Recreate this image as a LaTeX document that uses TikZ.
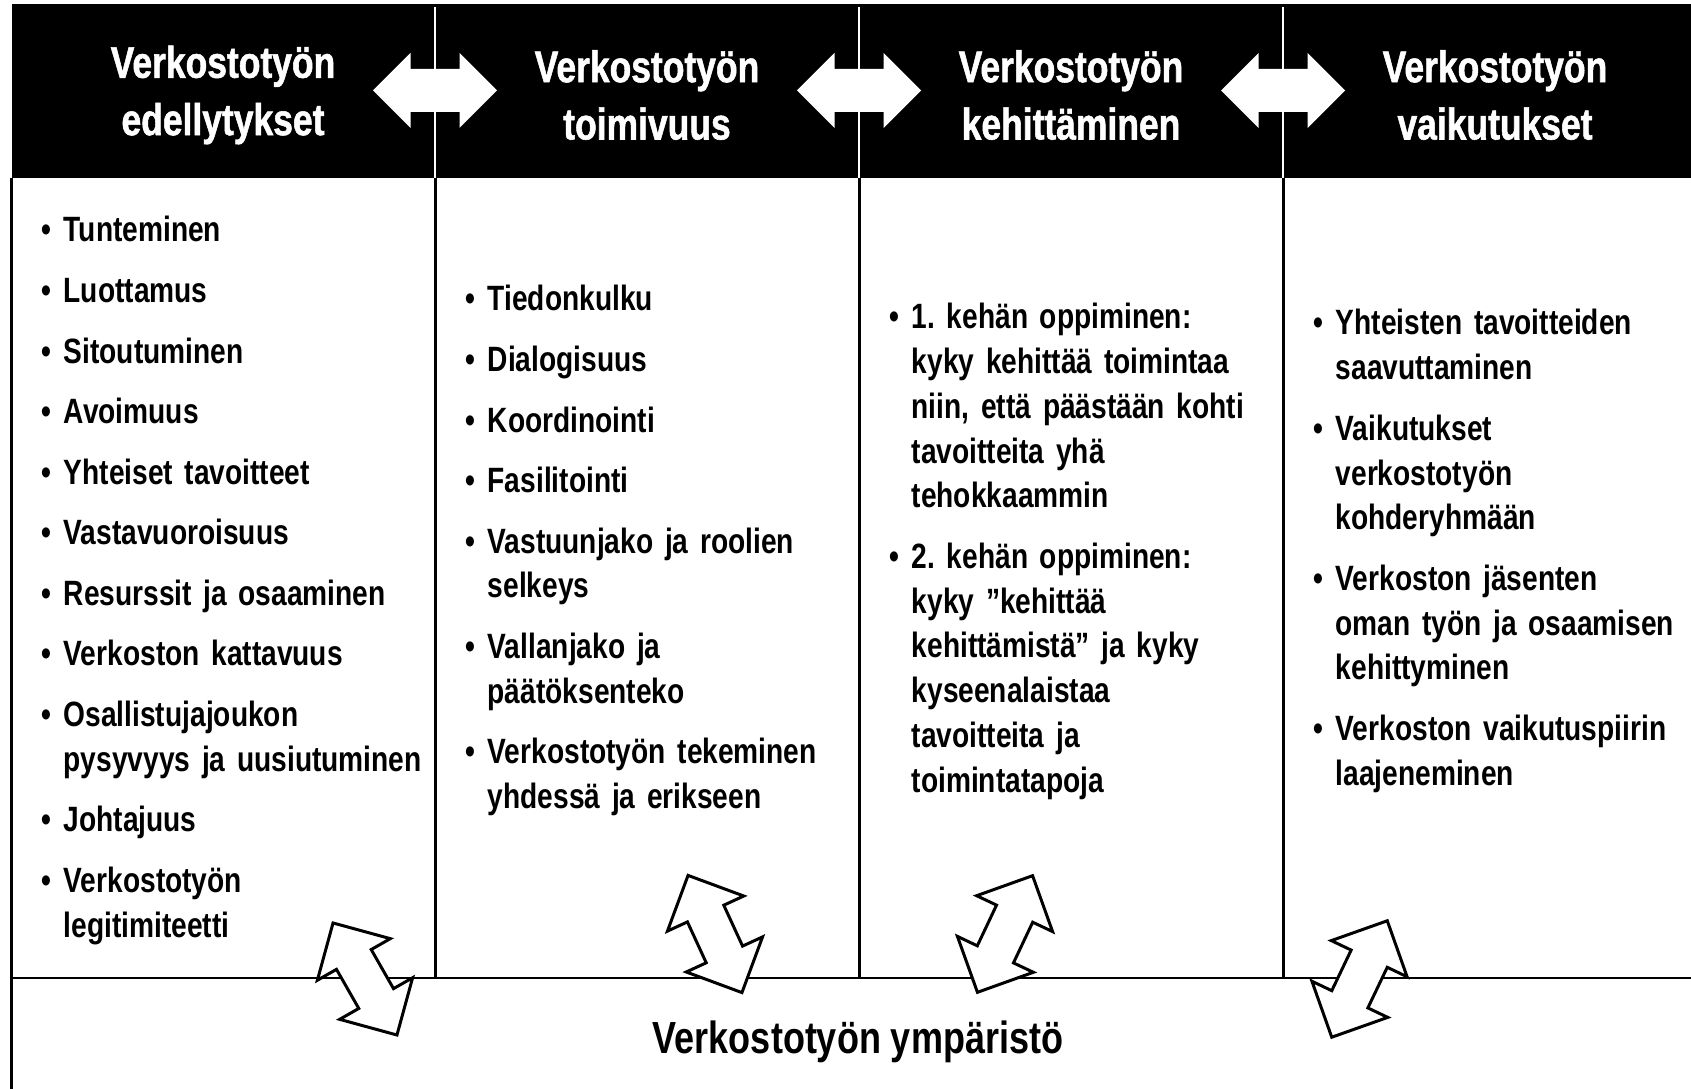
\documentclass[tikz,border=0pt]{standalone}
\usepackage{fontspec}
\usepackage{tikz}

\newfontfamily\headfont{Liberation Sans}[FakeStretch=0.80, FakeBold=1.2]
\newfontfamily\bodyfont{Liberation Sans}[FakeStretch=0.80]

\newcommand{\bitem}[1]{\hangindent=6.26pt\hangafter=1\noindent\makebox[6.26pt][l]{\textbullet}#1\par}
\newcommand{\colset}{\fontsize{10pt}{12.72pt}\selectfont\setlength{\parskip}{4.5pt}\frenchspacing}

\tikzset{
    flowarrow/.pic = {
        \fill[white] (-62,0) -- (-24.5,-37.5) -- (-24.5,-21.5) -- (24.5,-21.5) -- (24.5,-37.5)
            -- (62,0) -- (24.5,37.5) -- (24.5,21.5) -- (-24.5,21.5) -- (-24.5,37.5) -- cycle;
    },
    envarrow/.pic = {
        \filldraw[fill = white, draw = black, line width = 0.85pt]
            (0,-64.5) -- (42,-22.5) -- (20,-22.5) -- (20,22.5) -- (42,22.5)
            -- (0,64.5) -- (-42,22.5) -- (-20,22.5) -- (-20,-22.5) -- (-42,-22.5) -- cycle;
    },
}

\begin{document}
\begin{tikzpicture}
[
    x = 0.01cm, y = -0.01cm,
    frame/.style = {line width = 0.85pt},
    head/.style = {text = white, align = center, font = \headfont\bfseries\fontsize{12.6pt}{16.3pt}\selectfont},
    column/.style = {anchor = base west, text width = 4cm, align = left, inner sep = 0pt, font = \bodyfont\bfseries},
]
\useasboundingbox (0,0) rectangle (1691,1089);
\clip (0,0) rectangle (1691,1089);

% header band
\fill (11.5,4) rectangle (1720,178);
\draw[white, line width = 0.6pt] (435,7) -- (435,178) (859,7) -- (859,178) (1283,7) -- (1283,178);
\pic at (435,90.5) {flowarrow};
\pic at (859,90.5) {flowarrow};
\pic at (1283,90.5) {flowarrow};

\node[head] (h1) at (223,95) {Verkostotyön\\edellytykset};
\node[head] (h2) at (647,95) {Verkostotyön\\toimivuus};
\node[head] (h3) at (1071,95) {Verkostotyön\\kehittäminen};
\node[head] (h4) at (1495,95) {Verkostotyön\\vaikutukset};

% body frame
\draw[frame] (11.5,178) -- (11.5,1100);
\draw[frame] (435,178) -- (435,978) (859,178) -- (859,978) (1283,178) -- (1283,978);
\draw[frame] (11.5,978) -- (1720,978);

% columns
\node[column] (c1) at (41,242) {\colset
    \bitem{Tunteminen}
    \bitem{Luottamus}
    \bitem{Sitoutuminen}
    \bitem{Avoimuus}
    \bitem{Yhteiset tavoitteet}
    \bitem{Vastavuoroisuus}
    \bitem{Resurssit ja osaaminen}
    \bitem{Verkoston kattavuus}
    \bitem{Osallistujajoukon\newline pysyvyys ja uusiutuminen}
    \bitem{Johtajuus}
    \bitem{Verkostotyön\newline legitimiteetti}};
\node[column] (c2) at (465,311) {\colset
    \bitem{Tiedonkulku}
    \bitem{Dialogisuus}
    \bitem{Koordinointi}
    \bitem{Fasilitointi}
    \bitem{Vastuunjako ja roolien\newline selkeys}
    \bitem{Vallanjako ja\newline päätöksenteko}
    \bitem{Verkostotyön tekeminen\newline yhdessä ja erikseen}};
\node[column] (c3) at (889,329) {\colset
    \bitem{1. kehän oppiminen:\newline kyky kehittää toimintaa\newline niin, että päästään kohti\newline tavoitteita yhä\newline tehokkaammin}
    \bitem{2. kehän oppiminen:\newline kyky ”kehittää\newline kehittämistä” ja kyky\newline kyseenalaistaa\newline tavoitteita ja\newline toimintatapoja}};
\node[column] (c4) at (1313,335) {\colset
    \bitem{Yhteisten tavoitteiden\newline saavuttaminen}
    \bitem{Vaikutukset\newline verkostotyön\newline kohderyhmään}
    \bitem{Verkoston jäsenten\newline oman työn ja osaamisen\newline kehittyminen}
    \bitem{Verkoston vaikutuspiirin\newline laajeneminen}};

% environment arrows
\pic[rotate = 29.7] at (365,979) {envarrow};
\pic[rotate = 24.7] at (715,934) {envarrow};
\pic[rotate = -25.3] at (1005,934) {envarrow};
\pic[rotate = -25.5] at (1359.5,979) {envarrow};

\node[anchor = base, font = \bodyfont\bfseries\fontsize{12.8pt}{15pt}\selectfont] (env) at (858,1053) {Verkostotyön ympäristö};
\end{tikzpicture}
\end{document}
